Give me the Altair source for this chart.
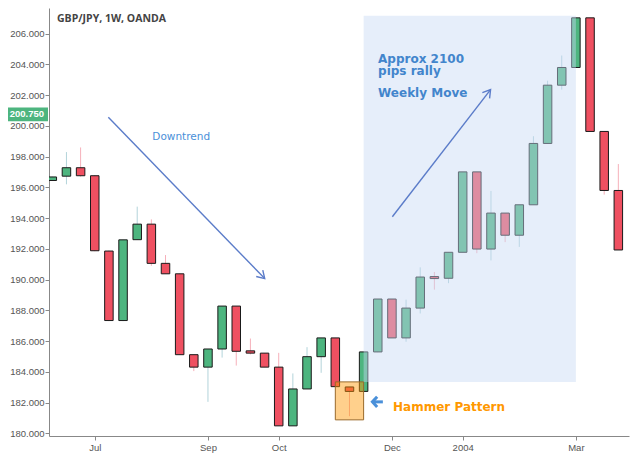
import math
import altair as alt
import pandas as pd

# ---------------- data ----------------
idx = list(range(41))
opens = [196.45, 196.73, 197.28, 196.76, 191.86, 187.34, 192.60, 193.61, 191.06, 190.38,
         185.12, 184.31, 185.49, 188.28, 185.37, 185.22, 184.31, 180.49, 182.89, 184.99,
         186.21, 183.02, 182.73, 185.30, 188.74, 186.21, 188.15, 190.20, 190.09, 191.78,
         197.01, 191.99, 194.33, 192.89, 194.87, 198.86, 202.65, 203.80, 207.03, 199.64,
         195.80]
highs = [196.70, 198.30, 198.60, 196.80, 191.90, 192.60, 194.75, 193.92, 191.60, 190.40,
         185.12, 185.49, 188.28, 188.28, 186.17, 185.22, 185.24, 183.90, 185.61, 186.21,
         186.21, 183.02, 185.30, 188.74, 188.74, 188.70, 190.80, 190.50, 191.78, 197.01,
         197.01, 195.77, 194.33, 194.87, 199.33, 202.94, 204.58, 207.03, 207.03, 199.64,
         197.52]
lows = [196.45, 196.20, 196.70, 191.85, 187.30, 187.30, 192.60, 190.90, 190.38, 185.10,
        184.05, 182.05, 184.93, 184.41, 185.14, 184.31, 180.49, 180.49, 182.89, 183.94,
        183.04, 181.12, 182.71, 185.28, 186.21, 185.96, 187.80, 189.35, 189.77, 191.78,
        191.72, 191.25, 192.44, 192.13, 194.87, 198.86, 202.36, 203.80, 199.64, 195.53,
        191.93]
closes = [196.68, 197.28, 196.76, 191.88, 187.34, 192.59, 193.61, 191.06, 190.38, 185.12,
          184.31, 185.49, 188.28, 185.34, 185.22, 184.31, 180.49, 182.89, 184.99, 186.21,
          183.04, 182.73, 185.30, 188.74, 186.21, 188.15, 190.17, 190.07, 191.78, 197.01,
          191.99, 194.33, 192.89, 194.87, 198.86, 202.65, 203.80, 207.03, 199.64, 195.80,
          191.93]

tick_idx = [3, 11, 16, 24, 29, 37]
tick_labels = ["Jul", "Sep", "Oct", "Dec", "2004", "Mar"]
y_ticks = list(range(180, 207, 2))

last_price = 200.75
title_text = "GBP/JPY, 1W, OANDA"

# annotation anchors (candle index, price)
rally_zone = {"i0": 22.0, "i1": 37.0, "v0": 207.17, "v1": 183.35}
hammer_zone = {"i0": 20.0, "i1": 22.0, "v0": 183.35, "v1": 180.88}
down_arrow = {"i0": 3.96, "v0": 200.57, "i1": 15.01, "v1": 190.07}
up_arrow = {"i0": 24.03, "v0": 194.09, "i1": 30.97, "v1": 202.36}
hammer_arrow = {"i0": 23.36, "v0": 182.05, "i1": 22.62, "v1": 182.05}
labels = [
    {"t": "Downtrend", "i": 7.07, "v": 199.09, "bold": False, "color": "#4A90D9", "size": 10.5},
    {"t": "Approx 2100", "i": 23.02, "v": 204.12, "bold": True, "color": "#4285CC", "size": 12},
    {"t": "pips rally", "i": 23.02, "v": 203.30, "bold": True, "color": "#4285CC", "size": 12},
    {"t": "Weekly Move", "i": 23.02, "v": 201.86, "bold": True, "color": "#4285CC", "size": 12},
    {"t": "Hammer Pattern", "i": 24.08, "v": 181.47, "bold": True, "color": "#FF9800", "size": 12},
]

# ---------------- layout ----------------
W, H = 580, 428
XDOM = [0.12, 40.4]
YDOM = [179.83, 207.67]
px_x = W / (XDOM[1] - XDOM[0])
px_y = H / (YDOM[1] - YDOM[0])

df = pd.DataFrame({"i": idx, "o": opens, "h": highs, "l": lows, "c": closes})
df["dir"] = ["up" if c >= o else "down" for o, c in zip(opens, closes)]

xs = alt.Scale(domain=XDOM, nice=False, zero=False)
ys = alt.Scale(domain=YDOM, nice=False, zero=False)

label_expr = " : ".join(
    f"datum.value == {v} ? '{t}'" for v, t in zip(tick_idx, tick_labels)
) + " : ''"

x_axis = alt.Axis(values=tick_idx, labelExpr=label_expr, title=None, grid=False,
                  tickSize=4, labelPadding=2, labelFontSize=9.5, labelColor="#555555",
                  labelFont="Liberation Sans", domainColor="#888888", tickColor="#888888",
                  labelFlush=False, labelOverlap=False)
y_axis = alt.Axis(values=y_ticks, format=".3f", title=None, grid=False,
                  tickSize=4, labelPadding=1, labelFontSize=9.5, labelColor="#555555",
                  labelFont="Liberation Sans", domainColor="#888888", tickColor="#888888",
                  labelFlush=False, labelOverlap=False)

base = alt.Chart(df)

wicks = base.mark_rule(strokeWidth=1, clip=True).encode(
    x=alt.X("i:Q", scale=xs, axis=x_axis),
    y=alt.Y("l:Q", scale=ys, axis=y_axis),
    y2="h:Q",
    color=alt.Color("dir:N", scale=alt.Scale(domain=["up", "down"],
                                             range=["#B3D4DA", "#F6B0BA"]), legend=None),
)

bodies = base.mark_bar(size=8.5, stroke="#1a1a1a", strokeWidth=1, clip=True).encode(
    x=alt.X("i:Q", scale=xs, axis=x_axis),
    y=alt.Y("o:Q", scale=ys, axis=y_axis),
    y2="c:Q",
    fill=alt.Fill("dir:N", scale=alt.Scale(domain=["up", "down"],
                                           range=["#4DB57F", "#EF5061"]), legend=None),
)


def zone(z, **mk):
    d = pd.DataFrame([z])
    return alt.Chart(d).mark_rect(**mk).encode(
        x=alt.X("i0:Q", scale=xs, axis=x_axis), x2="i1:Q",
        y=alt.Y("v0:Q", scale=ys, axis=y_axis), y2="v1:Q")


rally = zone(rally_zone, fill="#C6D8F4", fillOpacity=0.44)
hammer = zone(hammer_zone, fill="#FF9600", fillOpacity=0.45, stroke="#9A6A2A",
              strokeWidth=1)

HEAD = "M-1,-0.62L0,0L-1,0.62"


def arrow(a, color, sw, head_size, head_shape=HEAD):
    d = pd.DataFrame([a])
    ang = math.degrees(math.atan2(-(a["v1"] - a["v0"]) * px_y,
                                  (a["i1"] - a["i0"]) * px_x)) % 360
    shaft = alt.Chart(d).mark_rule(color=color, strokeWidth=sw).encode(
        x=alt.X("i0:Q", scale=xs, axis=x_axis), x2="i1:Q",
        y=alt.Y("v0:Q", scale=ys, axis=y_axis), y2="v1:Q")
    head = alt.Chart(d).mark_point(shape=head_shape, angle=ang, size=head_size,
                                   filled=False, stroke=color, strokeWidth=sw,
                                   opacity=1).encode(
        x=alt.X("i1:Q", scale=xs, axis=x_axis),
        y=alt.Y("v1:Q", scale=ys, axis=y_axis))
    return shaft + head


a1 = arrow(down_arrow, "#5B7CC9", 1.4, 220)
a2 = arrow(up_arrow, "#5B7CC9", 1.4, 220)
a3 = arrow(hammer_arrow, "#4A90D9", 3, 90, "M-1,-1.1L0,0L-1,1.1")

texts = []
for lb in labels:
    d = pd.DataFrame([lb])
    texts.append(alt.Chart(d).mark_text(
        align="left", baseline="alphabetic", font="DejaVu Sans",
        fontSize=lb["size"], fontWeight="bold" if lb["bold"] else "normal",
        color=lb["color"]).encode(
        x=alt.X("i:Q", scale=xs, axis=x_axis),
        y=alt.Y("v:Q", scale=ys, axis=y_axis),
        text="t:N"))

price_df = pd.DataFrame({"p": [last_price], "lo": [last_price - 0.44],
                         "hi": [last_price + 0.44],
                         "txt": [f"{last_price:.3f}"]})
price_box = alt.Chart(price_df).mark_rect(fill="#4DB57F").encode(
    x=alt.value(-41), x2=alt.value(-1),
    y=alt.Y("lo:Q", scale=ys, axis=y_axis), y2="hi:Q")
price_txt = alt.Chart(price_df).mark_text(
    align="right", baseline="middle", color="white", fontWeight="bold",
    font="Liberation Sans", fontSize=9.5).encode(
    x=alt.value(-5), y=alt.Y("p:Q", scale=ys, axis=y_axis), text="txt:N")

title = alt.Chart(pd.DataFrame({"t": [title_text]})).mark_text(
    align="left", baseline="alphabetic", font="Open Sans", fontWeight="bold",
    fontSize=10.5, color="#444444").encode(
    x=alt.value(8), y=alt.value(14), text="t:N")

chart = alt.layer(
    wicks, bodies, rally, hammer, a1, a2, a3, *texts, price_box, price_txt, title
).properties(
    width=W, height=H,
    autosize=alt.AutoSizeParams(type="none"),
    padding={"left": 41, "top": 0, "right": 3, "bottom": 18},
    background="white",
).configure_view(stroke=None)

chart.save("out.html", embed_options={"renderer": "svg", "actions": False})
